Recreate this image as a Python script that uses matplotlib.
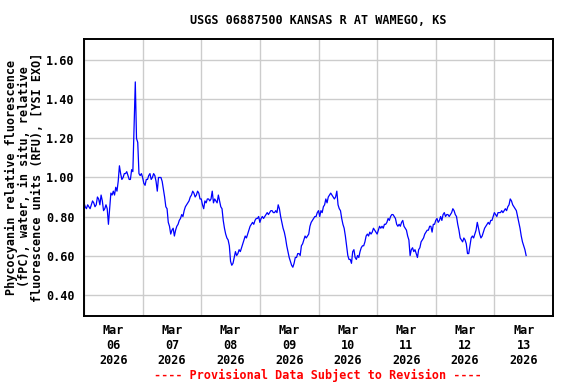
import numpy as np
import pandas as pd
import matplotlib
matplotlib.use("Agg")
import matplotlib.pyplot as plt
import matplotlib.dates as mdates
from matplotlib.font_manager import FontProperties

# half-hourly readings (RFU), one list per day, starting at midnight
mar06 = [0.87, 0.85, 0.84, 0.86, 0.85, 0.84, 0.86, 0.88, 0.87, 0.85, 0.86, 0.90,
         0.89, 0.86, 0.91, 0.88, 0.83, 0.84, 0.86, 0.84, 0.76, 0.84, 0.92, 0.91,
         0.93, 0.91, 0.95, 0.93, 0.98, 1.06, 1.02, 0.99, 1.00, 1.02, 1.02, 1.03,
         1.01, 0.99, 0.99, 1.04, 1.03, 1.26, 1.49, 1.20, 1.18, 1.02, 1.01, 1.02]
mar07 = [1.00, 0.97, 0.96, 0.99, 0.99, 1.01, 1.02, 0.99, 1.00, 1.02, 1.01, 0.98,
         0.93, 1.00, 1.00, 1.00, 0.98, 0.94, 0.90, 0.85, 0.84, 0.77, 0.75, 0.71,
         0.73, 0.74, 0.70, 0.73, 0.75, 0.76, 0.78, 0.79, 0.81, 0.80, 0.83, 0.85,
         0.86, 0.87, 0.88, 0.90, 0.91, 0.93, 0.92, 0.90, 0.91, 0.93, 0.92, 0.89]
mar08 = [0.89, 0.86, 0.84, 0.88, 0.87, 0.89, 0.89, 0.88, 0.89, 0.93, 0.87, 0.89,
         0.88, 0.87, 0.91, 0.88, 0.85, 0.84, 0.78, 0.74, 0.71, 0.69, 0.68, 0.65,
         0.57, 0.55, 0.56, 0.59, 0.62, 0.60, 0.61, 0.63, 0.62, 0.64, 0.66, 0.68,
         0.70, 0.69, 0.71, 0.73, 0.75, 0.76, 0.77, 0.76, 0.78, 0.79, 0.79, 0.80]
mar09 = [0.77, 0.79, 0.80, 0.79, 0.80, 0.81, 0.82, 0.81, 0.82, 0.83, 0.83, 0.82,
         0.82, 0.83, 0.82, 0.86, 0.84, 0.80, 0.77, 0.74, 0.72, 0.69, 0.65, 0.62,
         0.59, 0.57, 0.55, 0.54, 0.56, 0.59, 0.59, 0.61, 0.61, 0.60, 0.65, 0.66,
         0.68, 0.70, 0.69, 0.70, 0.71, 0.75, 0.77, 0.78, 0.79, 0.80, 0.80, 0.82]
mar10 = [0.83, 0.80, 0.83, 0.82, 0.85, 0.86, 0.89, 0.87, 0.90, 0.91, 0.92, 0.91,
         0.90, 0.89, 0.90, 0.93, 0.86, 0.84, 0.83, 0.79, 0.76, 0.74, 0.70, 0.65,
         0.60, 0.58, 0.58, 0.56, 0.62, 0.63, 0.59, 0.58, 0.60, 0.59, 0.62, 0.64,
         0.65, 0.65, 0.67, 0.70, 0.71, 0.70, 0.72, 0.71, 0.72, 0.74, 0.73, 0.72]
mar11 = [0.71, 0.73, 0.75, 0.74, 0.75, 0.74, 0.76, 0.76, 0.77, 0.79, 0.78, 0.80,
         0.81, 0.81, 0.80, 0.79, 0.76, 0.75, 0.76, 0.75, 0.77, 0.78, 0.75, 0.74,
         0.73, 0.70, 0.68, 0.60, 0.63, 0.64, 0.62, 0.63, 0.61, 0.59, 0.63, 0.64,
         0.67, 0.68, 0.69, 0.71, 0.72, 0.73, 0.73, 0.75, 0.75, 0.72, 0.76, 0.76]
mar12 = [0.78, 0.79, 0.77, 0.78, 0.80, 0.78, 0.81, 0.82, 0.80, 0.81, 0.81, 0.80,
         0.81, 0.82, 0.84, 0.83, 0.81, 0.80, 0.76, 0.73, 0.69, 0.68, 0.67, 0.69,
         0.68, 0.66, 0.61, 0.61, 0.65, 0.69, 0.70, 0.69, 0.71, 0.73, 0.77, 0.74,
         0.71, 0.69, 0.70, 0.72, 0.74, 0.75, 0.76, 0.77, 0.76, 0.78, 0.78, 0.80]
mar13 = [0.82, 0.81, 0.80, 0.82, 0.82, 0.82, 0.83, 0.82, 0.83, 0.84, 0.83, 0.85,
         0.86, 0.89, 0.88, 0.86, 0.85, 0.84, 0.83, 0.80, 0.77, 0.74, 0.70, 0.67,
         0.65, 0.63, 0.60]

vals = np.array(mar06 + mar07 + mar08 + mar09 + mar10 + mar11 + mar12 + mar13)
times = pd.date_range("2026-03-06 00:00", periods=len(vals), freq="30min")

title = "USGS 06887500 KANSAS R AT WAMEGO, KS"
ylab = ("Phycocyanin relative fluorescence\n(fPC), water, in situ, relative\n"
        "fluorescence units (RFU), [YSI EXO]")
yticks = [0.40, 0.60, 0.80, 1.00, 1.20, 1.40, 1.60]

font = {"family": "DejaVu Sans Mono", "weight": "bold", "size": 8.5}

fig = plt.figure(figsize=(5.76, 3.84), dpi=100)
ax = fig.add_axes([84/576, 1-316/384, 469/576, 277/384])

ax.plot(times, vals, color="#0000ff", lw=0.9)

ax.set_xlim(pd.Timestamp("2026-03-06"), pd.Timestamp("2026-03-14"))
ax.set_ylim(0.29, 1.71)

# gridlines at midnight, labels at noon
ax.xaxis.set_major_locator(mdates.DayLocator())
ax.xaxis.set_major_formatter(plt.NullFormatter())
ax.xaxis.set_minor_locator(mdates.HourLocator(byhour=[12]))
ax.xaxis.set_minor_formatter(mdates.DateFormatter("%b\n%d\n%Y"))
ax.tick_params(axis="x", which="both", length=0, pad=6)
ax.set_yticks(yticks)
ax.set_yticklabels(["%.2f" % v for v in yticks])
ax.tick_params(axis="y", length=0, pad=7)
for lab in ax.get_xticklabels(minor=True) + ax.get_yticklabels():
    lab.set_fontproperties(FontProperties(**font))

ax.grid(True, which="major", color="#cccccc", lw=1.0)
ax.set_axisbelow(True)
for s in ax.spines.values():
    s.set_linewidth(1.4)

fig.text(318.5/576, 1-20/384, title, ha="center", va="center", **font)
fig.text(24/576, 1-177/384, ylab, rotation=90, ha="center", va="center",
         multialignment="center", linespacing=1.0, **font)
fig.text(318/576, 1-375/384, "---- Provisional Data Subject to Revision ----",
         ha="center", va="center", color="red", **font)

fig.savefig("out.png", dpi=100)
